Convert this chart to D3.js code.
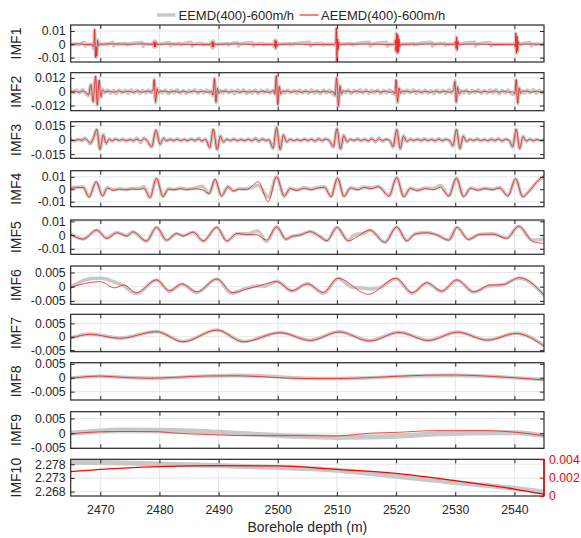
<!DOCTYPE html>
<html><head><meta charset="utf-8">
<script src="https://cdn.jsdelivr.net/npm/d3@7"></script>
<style>body{margin:0;background:#fff}svg{display:block}text{font-family:"Liberation Sans",Arial,sans-serif}</style>
</head><body><svg id="c" width="581" height="538"></svg>
<script>
// ---------------- DATA ----------------
const xDomain = [2465, 2545];
const xTicks = [2470, 2480, 2490, 2500, 2510, 2520, 2530, 2540];
const imfNames = ["IMF1","IMF2","IMF3","IMF4","IMF5","IMF6","IMF7","IMF8","IMF9","IMF10"];
const yTicks = [[-0.01,0,0.01],[-0.012,0,0.012],[-0.015,0,0.015],[-0.01,0,0.01],[-0.01,0,0.01],
  [-0.005,0,0.005],[-0.005,0,0.005],[-0.005,0,0.005],[-0.005,0,0.005],[2.268,2.273,2.278]];
const yDomains = [[-0.0133,0.0145],[-0.0165,0.0165],[-0.0194,0.0194],[-0.014,0.0149],[-0.014,0.011],
  [-0.0062,0.0073],[-0.0056,0.0084],[-0.008,0.0054],[-0.0051,0.0073],[2.2664,2.2798]];
const rightTicks = [0, 0.002, 0.004];
const rightDomain = [0, 0.004];
const seriesNames = ["EEMD(400)-600m/h", "AEEMD(400)-600m/h"];
const xLabel = "Borehole depth (m)";

const imf1Red = [
[2465,0],[2466.5,0.0003],[2467.4,-0.0002],[2468.6,0],
[2468.85,-0.002],[2468.95,0.002],[2469.05,0.0115],[2469.2,-0.0098],[2469.3,-0.002],[2469.4,-0.009],[2469.55,0.003],[2469.7,-0.001],[2469.9,0],
[2472.2,0.0003],[2475,0],[2477.2,0.0004],[2478.9,0],
[2479.05,0.0015],[2479.15,-0.002],[2479.25,0.002],[2479.35,-0.0018],[2479.45,0.0012],[2479.6,0],
[2482,0.0002],[2485.5,-0.0002],[2488.7,0],
[2488.85,0.0015],[2488.95,-0.002],[2489.05,0.0022],[2489.15,-0.002],[2489.25,0.001],[2489.4,0],
[2493.3,0.0003],[2496,-0.0002],[2499.3,0],
[2499.45,-0.0015],[2499.55,0.003],[2499.65,-0.003],[2499.75,0.0025],[2499.85,-0.0015],[2500,0],
[2503,0.0002],[2505.5,-0.0002],[2509.6,0],
[2509.8,0.001],[2509.9,0.012],[2510.0,-0.0125],[2510.1,0.004],[2510.2,-0.004],[2510.3,0.0015],[2510.45,0],
[2515.6,0.0002],[2518.5,-0.0002],[2519.8,0],
[2519.9,0.003],[2520.0,-0.005],[2520.1,0.0085],[2520.2,-0.0065],[2520.3,0.007],[2520.4,-0.006],[2520.5,0.004],[2520.6,-0.002],[2520.75,0],
[2526,0.0002],[2529.9,0],
[2530.05,0.002],[2530.15,-0.003],[2530.25,0.0055],[2530.35,-0.0043],[2530.45,0.002],[2530.6,0],
[2534,0.0002],[2536,-0.0002],[2540.0,0],
[2540.15,-0.002],[2540.25,0.0085],[2540.35,-0.0065],[2540.45,0.006],[2540.55,-0.005],[2540.65,0.002],[2540.8,0],
[2543,0.0002],[2545,0]];

const imf1Gray = [
[2465,0],[2466.1,0.0004],[2466.3,-0.0004],[2466.5,0],
[2467.3,0.0016],[2467.45,-0.0014],[2467.6,0],
[2468.6,0],[2468.75,-0.0015],[2468.85,-0.0032],[2468.95,0.002],[2469.05,0.0108],[2469.2,-0.0097],[2469.3,-0.002],[2469.4,-0.009],[2469.55,0.0035],[2469.7,-0.0015],[2469.85,0.0008],[2470.0,0],
[2471.0,0.0004],[2471.15,-0.0004],[2471.3,0],
[2472.1,0.0016],[2472.25,-0.0013],[2472.4,0],
[2474.4,0.0006],[2474.55,-0.0006],[2474.7,0],
[2477.1,0.0013],[2477.25,-0.0015],[2477.4,0],
[2478.8,0],[2478.95,0.0018],[2479.05,-0.0022],[2479.15,0.0025],[2479.25,-0.002],[2479.35,0.0022],[2479.45,-0.0018],[2479.55,0.0012],[2479.7,0],
[2481.7,0.0014],[2481.85,-0.0012],[2482.0,0],
[2483.5,0.0006],[2483.65,-0.0006],[2483.8,0],
[2485.4,0.0015],[2485.55,-0.0014],[2485.7,0],
[2487.2,0.0007],[2487.35,-0.0007],[2487.5,0],
[2488.6,0],[2488.75,0.0015],[2488.85,-0.0025],[2488.95,0.0025],[2489.05,-0.0028],[2489.15,0.0025],[2489.25,-0.0018],[2489.35,0.001],[2489.5,0],
[2491.5,0.0006],[2491.65,-0.0006],[2491.8,0],
[2493.2,0.0014],[2493.35,-0.0014],[2493.5,0],
[2495.7,0.0013],[2495.85,-0.0012],[2496.0,0],
[2497.5,0.0006],[2497.65,-0.0006],[2497.8,0],
[2499.2,0],[2499.35,-0.002],[2499.45,0.0022],[2499.55,0.0032],[2499.65,-0.0032],[2499.75,0.0028],[2499.85,-0.0018],[2499.95,0.0008],[2500.1,0],
[2502,0.0006],[2502.15,-0.0006],[2502.3,0],
[2505.4,0.0015],[2505.55,-0.0013],[2505.7,0],
[2507.5,0.0007],[2507.65,-0.0007],[2507.8,0],
[2509.6,0],[2509.75,-0.0015],[2509.85,0.0015],[2509.9,0.0118],[2510.0,-0.013],[2510.1,0.0045],[2510.2,-0.0045],[2510.3,0.002],[2510.45,-0.0005],[2510.6,0],
[2512.5,0.0006],[2512.65,-0.0006],[2512.8,0],
[2515.5,0.0015],[2515.65,-0.0013],[2515.8,0],
[2518.4,0.0015],[2518.55,-0.0015],[2518.7,0],
[2519.7,0],[2519.85,0.0035],[2519.95,-0.0055],[2520.05,0.0082],[2520.15,-0.0068],[2520.25,0.0072],[2520.35,-0.0062],[2520.45,0.0045],[2520.55,-0.0025],[2520.7,0.001],[2520.85,0],
[2523,0.0006],[2523.15,-0.0006],[2523.3,0],
[2526.0,0.0015],[2526.15,-0.0013],[2526.3,0],
[2528.2,0.0007],[2528.35,-0.0007],[2528.5,0],
[2529.85,0],[2530.0,0.0025],[2530.1,-0.0032],[2530.2,0.0055],[2530.3,-0.0045],[2530.4,0.0025],[2530.5,-0.001],[2530.65,0],
[2533.3,0.0015],[2533.45,-0.0013],[2533.6,0],
[2535.9,0.0013],[2536.05,-0.0012],[2536.2,0],
[2539.9,0],[2540.05,0.001],[2540.15,-0.0025],[2540.25,0.0082],[2540.35,-0.0068],[2540.45,0.0062],[2540.55,-0.0052],[2540.65,0.0025],[2540.8,-0.0005],[2540.95,0],
[2542.7,0.0014],[2542.85,-0.0013],[2543.0,0],[2545,0]];

const imf2Red = [
[2465,0],[2465.6,0.0007],[2466.3,-0.0006],[2467.0,0.0006],[2467.6,-0.0004],
[2468.0,-0.003],[2468.4,0.006],[2468.8,-0.0087],[2469.2,0.0136],[2469.5,-0.0115],[2469.8,0.01],[2470.1,-0.0045],[2470.4,0.0015],[2470.8,-0.0003],
[2471.5,0.0006],[2472.3,-0.0006],[2473.1,0.0007],[2473.9,-0.0005],[2474.7,0.0006],[2475.5,-0.0006],[2476.3,0.0007],[2477.1,-0.0005],[2477.9,0.0006],[2478.6,-0.0002],
[2478.95,0.002],[2479.1,0.0105],[2479.35,-0.009],[2479.6,0.0025],[2479.85,-0.0012],[2480.1,0.0003],
[2480.9,0.0006],[2481.7,-0.0005],[2482.5,0.0007],[2483.3,-0.0006],[2484.1,0.0005],[2484.9,-0.0006],[2485.7,0.0007],[2486.5,-0.0005],[2487.3,0.0006],[2488.1,-0.0006],[2488.8,0.0002],
[2489.05,-0.003],[2489.3,0.0114],[2489.55,-0.009],[2489.8,0.003],[2490.05,-0.0012],[2490.3,0.0003],
[2491.1,0.0006],[2491.9,-0.0005],[2492.7,0.0007],[2493.5,-0.0006],[2494.3,0.0005],[2495.1,-0.0006],[2495.9,0.0007],[2496.7,-0.0005],[2497.5,0.0006],[2498.3,-0.0006],[2499.0,0.0003],
[2499.3,0.001],[2499.5,-0.002],[2499.75,0.014],[2500.0,-0.0113],[2500.25,0.0045],[2500.5,-0.002],[2500.8,0.0004],
[2501.6,0.0006],[2502.4,-0.0005],[2503.2,0.0007],[2504.0,-0.0006],[2504.8,0.0005],[2505.6,-0.0006],[2506.4,0.0007],[2507.2,-0.0005],[2508.0,0.0006],[2508.8,-0.0006],[2509.4,0.0003],
[2509.7,-0.003],[2509.95,0.0121],[2510.25,-0.0124],[2510.5,0.005],[2510.75,-0.002],[2511.0,0.0004],
[2511.8,0.0006],[2512.6,-0.0005],[2513.4,0.0007],[2514.2,-0.0006],[2515.0,0.0005],[2515.8,-0.0006],[2516.6,0.0007],[2517.4,-0.0005],[2518.2,0.0006],[2519.0,-0.0006],[2519.5,0.0002],
[2519.8,-0.002],[2520.0,0.0104],[2520.25,-0.009],[2520.5,0.003],[2520.75,-0.0012],[2521.0,0.0003],
[2521.8,0.0006],[2522.6,-0.0005],[2523.4,0.0007],[2524.2,-0.0006],[2525.0,0.0005],[2525.8,-0.0006],[2526.6,0.0007],[2527.4,-0.0005],[2528.2,0.0006],[2529.0,-0.0006],[2529.5,0.0002],
[2529.75,0.002],[2529.95,0.009],[2530.15,-0.009],[2530.4,0.004],[2530.65,-0.002],[2531.0,0.0003],
[2531.8,0.0006],[2532.6,-0.0005],[2533.4,0.0007],[2534.2,-0.0006],[2535.0,0.0005],[2535.8,-0.0006],[2536.6,0.0007],[2537.4,-0.0005],[2538.2,0.0006],[2539.0,-0.0006],[2539.7,0.0002],
[2540.05,-0.002],[2540.3,0.0105],[2540.55,-0.01],[2540.8,0.003],[2541.05,-0.0012],[2541.3,0.0003],
[2542.1,0.0006],[2542.9,-0.0005],[2543.7,0.0006],[2544.4,-0.0004],[2545,0]];

const imf2Gray = [
[2465,0.0005],[2465.5,-0.001],[2466.0,0.0015],[2466.5,-0.0012],[2467.0,0.002],[2467.5,-0.0015],
[2468.0,-0.0035],[2468.4,0.0065],[2468.8,-0.009],[2469.2,0.013],[2469.5,-0.0118],[2469.8,0.0095],[2470.1,-0.005],[2470.4,0.002],[2470.8,-0.001],
[2471.2,0.0015],[2471.7,-0.0012],[2472.2,0.001],[2472.7,-0.0018],[2473.2,0.0015],[2473.7,-0.001],[2474.2,0.0012],[2474.7,-0.0015],[2475.2,0.0018],[2475.7,-0.001],[2476.2,0.0012],[2476.7,-0.0016],[2477.2,0.0013],[2477.7,-0.001],[2478.2,0.0015],[2478.6,-0.001],
[2478.95,0.0025],[2479.1,0.0105],[2479.35,-0.0095],[2479.6,0.003],[2479.85,-0.0015],[2480.1,0.001],
[2480.5,-0.0012],[2481.0,0.0015],[2481.5,-0.0018],[2482.0,0.0012],[2482.5,-0.001],[2483.0,0.0016],[2483.5,-0.0012],[2484.0,0.001],[2484.5,-0.0015],[2485.0,0.0012],[2485.5,-0.0008],[2486.0,0.0018],[2486.5,-0.0015],[2487.0,0.0012],[2487.5,-0.001],[2488.0,0.0015],[2488.5,-0.0012],[2488.8,0.001],
[2489.05,-0.0035],[2489.3,0.011],[2489.55,-0.0095],[2489.8,0.0035],[2490.05,-0.0015],[2490.3,0.001],
[2490.7,-0.0012],[2491.2,0.0015],[2491.7,-0.001],[2492.2,0.0012],[2492.7,-0.0018],[2493.2,0.0015],[2493.7,-0.001],[2494.2,0.0018],[2494.7,-0.0015],[2495.2,0.001],[2495.7,-0.0012],[2496.2,0.0015],[2496.7,-0.0016],[2497.2,0.0012],[2497.7,-0.001],[2498.2,0.0015],[2498.7,-0.0012],[2499.1,0.001],
[2499.3,0.0012],[2499.5,-0.0025],[2499.75,0.0135],[2500.0,-0.0115],[2500.25,0.005],[2500.5,-0.0025],[2500.8,0.001],
[2501.2,-0.0012],[2501.7,0.0015],[2502.2,-0.001],[2502.7,0.0012],[2503.2,-0.0016],[2503.7,0.0015],[2504.2,-0.001],[2504.7,0.0012],[2505.2,-0.0015],[2505.7,0.0018],[2506.2,-0.0012],[2506.7,0.001],[2507.2,-0.0016],[2507.7,0.0015],[2508.2,-0.001],[2508.7,0.0012],[2509.2,-0.001],
[2509.7,-0.0035],[2509.95,0.0118],[2510.25,-0.0125],[2510.5,0.0055],[2510.75,-0.0025],[2511.0,0.001],
[2511.4,-0.0012],[2511.9,0.0015],[2512.4,-0.0018],[2512.9,0.0012],[2513.4,-0.001],[2513.9,0.0016],[2514.4,-0.0012],[2514.9,0.0018],[2515.4,-0.0015],[2515.9,0.0012],[2516.4,-0.001],[2516.9,0.0015],[2517.4,-0.0016],[2517.9,0.0012],[2518.4,-0.001],[2518.9,0.0015],[2519.4,-0.001],
[2519.8,-0.0025],[2520.0,0.0102],[2520.25,-0.0095],[2520.5,0.0035],[2520.75,-0.0015],[2521.0,0.001],
[2521.4,-0.0012],[2521.9,0.0015],[2522.4,-0.001],[2522.9,0.0018],[2523.4,-0.0016],[2523.9,0.0012],[2524.4,-0.001],[2524.9,0.0015],[2525.4,-0.0012],[2525.9,0.001],[2526.4,-0.0018],[2526.9,0.0015],[2527.4,-0.001],[2527.9,0.0012],[2528.4,-0.0015],[2528.9,0.0018],[2529.4,-0.001],
[2529.75,0.0025],[2529.95,0.0092],[2530.15,-0.0095],[2530.4,0.0045],[2530.65,-0.0025],[2531.0,0.001],
[2531.4,-0.0012],[2531.9,0.0015],[2532.4,-0.0016],[2532.9,0.0012],[2533.4,-0.001],[2533.9,0.0018],[2534.4,-0.0015],[2534.9,0.001],[2535.4,-0.0012],[2535.9,0.0015],[2536.4,-0.001],[2536.9,0.0016],[2537.4,-0.0018],[2537.9,0.0012],[2538.4,-0.001],[2538.9,0.0015],[2539.4,-0.0012],
[2540.05,-0.0025],[2540.3,0.0102],[2540.55,-0.0102],[2540.8,0.0035],[2541.05,-0.0015],[2541.3,0.001],
[2541.7,-0.0012],[2542.2,0.0015],[2542.7,-0.001],[2543.2,0.0018],[2543.7,-0.0015],[2544.2,0.0012],[2544.7,-0.001],[2545,0.0005]];

const imf3Red = [
[2465,0.0003],[2465.6,-0.0006],[2466.3,0.0005],[2466.9,-0.0003],[2467.4,0.0015],[2467.9,-0.0008],[2468.3,-0.0035],[2468.85,0.002],[2469.4,0.0113],[2469.95,-0.0099],[2470.5,0.0053],[2471.0,-0.0035],[2471.5,0.0008],
[2472.0,-0.0006],[2472.6,0.0008],[2473.2,-0.0004],[2473.8,0.0005],[2474.4,-0.0007],[2475.0,0.0004],[2475.6,-0.0005],[2476.2,0.0009],[2476.8,-0.0008],[2477.4,0.0012],[2477.9,-0.0004],
[2478.7,-0.007],[2479.4,0.0106],[2480.1,-0.0046],[2480.7,0.0018],[2481.2,-0.0008],
[2481.8,0.0005],[2482.4,-0.0004],[2483.0,0.0007],[2483.6,-0.0005],[2484.2,0.0004],[2484.8,-0.0006],[2485.4,0.0008],[2486.0,-0.0004],[2486.6,0.001],[2487.2,-0.0008],[2487.8,0.0006],
[2488.5,-0.008],[2489.1,0.0115],[2489.75,-0.0099],[2490.3,0.004],[2490.8,-0.0018],
[2491.4,0.0006],[2492.0,-0.0004],[2492.6,0.0007],[2493.2,-0.0005],[2493.8,0.0004],[2494.4,-0.0006],[2495.0,0.0008],[2495.6,-0.0006],[2496.2,0.001],[2496.8,-0.0009],[2497.4,0.0007],[2498.0,-0.0004],[2498.5,0.0003],
[2499.2,-0.0085],[2499.8,0.0135],[2500.4,-0.01],[2500.95,0.005],[2501.5,-0.0018],
[2502.1,0.0006],[2502.7,-0.0005],[2503.3,0.0004],[2503.9,-0.0006],[2504.5,0.0007],[2505.1,-0.0004],[2505.7,0.0006],[2506.3,-0.0008],[2506.9,0.001],[2507.5,-0.0006],[2508.1,0.0008],[2508.7,-0.0004],
[2509.4,-0.007],[2510.0,0.012],[2510.6,-0.0095],[2511.15,0.0045],[2511.7,-0.0018],
[2512.3,0.0006],[2512.9,-0.0004],[2513.5,0.0007],[2514.1,-0.0005],[2514.7,0.0006],[2515.3,-0.0008],[2515.9,0.001],[2516.5,-0.001],[2517.1,0.0012],[2517.7,-0.0007],[2518.3,0.0006],[2518.9,-0.0004],
[2519.5,-0.007],[2520.1,0.011],[2520.7,-0.009],[2521.25,0.004],[2521.8,-0.0014],
[2522.4,0.0005],[2523.0,-0.0004],[2523.6,0.0006],[2524.2,-0.0005],[2524.8,0.0007],[2525.4,-0.0004],[2526.0,0.0005],[2526.6,-0.0007],[2527.2,0.0009],[2527.8,-0.0006],[2528.4,0.0005],[2529.0,-0.0003],
[2529.6,-0.006],[2530.2,0.011],[2530.8,-0.009],[2531.35,0.004],[2531.9,-0.0014],
[2532.5,0.0005],[2533.1,-0.0004],[2533.7,0.0007],[2534.3,-0.0005],[2534.9,0.0004],[2535.5,-0.0006],[2536.1,0.0007],[2536.7,-0.0005],[2537.3,0.0009],[2537.9,-0.0008],[2538.5,0.0006],[2539.1,-0.0003],
[2539.7,-0.007],[2540.3,0.0115],[2540.9,-0.009],[2541.45,0.0035],[2542.0,-0.001],[2542.6,0.0007],[2543.2,-0.0006],[2543.8,0.0005],[2544.4,-0.0004],[2545,0.0003]];

const imf3Gray = [
[2465,0.0006],[2465.6,-0.001],[2466.3,0.0009],[2466.9,-0.0006],[2467.4,0.002],[2467.9,-0.0012],[2468.3,-0.004],[2468.85,0.0025],[2469.4,0.011],[2469.95,-0.0102],[2470.5,0.0058],[2471.0,-0.004],[2471.5,0.0012],
[2472.0,-0.001],[2472.6,0.0013],[2473.2,-0.0008],[2473.8,0.001],[2474.4,-0.0012],[2475.0,0.0009],[2475.6,-0.001],[2476.2,0.0022],[2476.8,-0.0028],[2477.4,0.0025],[2477.9,-0.0012],
[2478.7,-0.0075],[2479.4,0.0105],[2480.1,-0.005],[2480.7,0.0022],[2481.2,-0.0012],
[2481.8,0.001],[2482.4,-0.0008],[2483.0,0.0012],[2483.6,-0.001],[2484.2,0.0009],[2484.8,-0.0011],[2485.4,0.0014],[2486.0,-0.001],[2486.6,0.0018],[2487.2,-0.0015],[2487.8,0.001],
[2488.5,-0.0082],[2489.1,0.0112],[2489.75,-0.0102],[2490.3,0.0045],[2490.8,-0.0022],
[2491.4,0.001],[2492.0,-0.0008],[2492.6,0.0012],[2493.2,-0.001],[2493.8,0.0009],[2494.4,-0.0011],[2495.0,0.0014],[2495.6,-0.0012],[2496.2,0.0018],[2496.8,-0.0016],[2497.4,0.0012],[2498.0,-0.0008],[2498.5,0.0006],
[2499.2,-0.009],[2499.8,0.013],[2500.4,-0.0102],[2500.95,0.0055],[2501.5,-0.0022],
[2502.1,0.001],[2502.7,-0.001],[2503.3,0.0008],[2503.9,-0.0011],[2504.5,0.0012],[2505.1,-0.0008],[2505.7,0.0011],[2506.3,-0.0014],[2506.9,0.0016],[2507.5,-0.0011],[2508.1,0.0014],[2508.7,-0.0008],
[2509.4,-0.0075],[2510.0,0.0118],[2510.6,-0.0098],[2511.15,0.005],[2511.7,-0.0022],
[2512.3,0.001],[2512.9,-0.0008],[2513.5,0.0012],[2514.1,-0.001],[2514.7,0.0011],[2515.3,-0.0015],[2515.9,0.0018],[2516.5,-0.0022],[2517.1,0.0022],[2517.7,-0.0013],[2518.3,0.001],[2518.9,-0.0007],
[2519.5,-0.0075],[2520.1,0.0108],[2520.7,-0.0095],[2521.25,0.0045],[2521.8,-0.0018],
[2522.4,0.001],[2523.0,-0.0008],[2523.6,0.0011],[2524.2,-0.001],[2524.8,0.0012],[2525.4,-0.0008],[2526.0,0.001],[2526.6,-0.0013],[2527.2,0.0016],[2527.8,-0.0011],[2528.4,0.001],[2529.0,-0.0006],
[2529.6,-0.0065],[2530.2,0.0108],[2530.8,-0.0095],[2531.35,0.0045],[2531.9,-0.0018],
[2532.5,0.001],[2533.1,-0.0008],[2533.7,0.0012],[2534.3,-0.001],[2534.9,0.0009],[2535.5,-0.0011],[2536.1,0.0012],[2536.7,-0.001],[2537.3,0.0016],[2537.9,-0.0014],[2538.5,0.001],[2539.1,-0.0006],
[2539.7,-0.0075],[2540.3,0.0112],[2540.9,-0.0095],[2541.45,0.004],[2542.0,-0.0014],[2542.6,0.0011],[2543.2,-0.001],[2543.8,0.0009],[2544.4,-0.0007],[2545,0.0005]];

const imf4Red = [
[2465,0.0008],[2467.1,0.0015],[2468.1,-0.0064],[2469.3,0.006],[2470.4,-0.0054],[2471.2,0.001],[2472.2,-0.0009],[2473.2,0],[2474.3,-0.0004],[2475.3,0.0001],[2476.6,-0.0001],[2477.4,0.0005],
[2478.4,-0.0067],[2479.5,0.0088],[2480.6,-0.006],[2481.5,0],[2482.4,-0.0005],[2483.5,0.0005],[2484.6,-0.0004],[2486,0.0003],[2487,0],
[2488.4,-0.0034],[2489.4,0.008],[2490.5,-0.0054],[2491.6,0.002],[2492.5,-0.0015],[2493.5,0],[2494.7,-0.0003],
[2496.7,0.006],[2498.4,-0.01],[2499.8,0.01],[2501.1,-0.0054],
[2502.1,0.0005],[2503.2,-0.001],[2504.5,0.0008],[2505.6,-0.0004],[2506.8,0.001],[2507.9,0.0015],
[2509.0,-0.006],[2510.1,0.009],[2511.2,-0.0058],[2512.3,0.001],[2513.5,-0.0005],[2514.6,0.0015],[2515.8,0.0005],[2517,0.002],
[2518.8,-0.0055],[2520.1,0.0095],[2521.3,-0.006],[2522.4,0.0005],[2523.6,-0.001],[2525,0.0005],[2526.3,-0.0005],[2527.5,0.0015],
[2528.9,-0.0055],[2530.2,0.009],[2531.4,-0.006],[2532.6,0.0008],[2533.8,-0.0008],[2535,0.0005],[2536.3,-0.0005],[2537.5,0.001],
[2538.9,-0.0055],[2540.2,0.0085],[2541.4,-0.006],[2542.6,-0.001],[2543.8,0.006],[2545,0.011]];

const imf4Gray = [
[2465,0.0012],[2467.1,0.002],[2468.1,-0.006],[2469.3,0.0058],[2470.4,-0.005],[2471.2,0.0015],[2472.2,-0.0005],[2473.2,0.0005],[2474.3,-0.0002],[2475.3,0.0006],[2476.6,0.0008],[2477.4,0.002],
[2478.4,-0.0065],[2479.5,0.0085],[2480.6,-0.0058],[2481.5,0.0005],[2482.4,-0.0002],[2483.5,0.0008],[2484.6,0.0001],[2486,0.001],[2487.2,0.0025],
[2488.4,-0.0035],[2489.4,0.0078],[2490.5,-0.0055],[2491.6,0.0022],[2492.5,-0.0012],[2493.5,0.0005],[2494.7,0.0005],
[2496.7,0.003],[2498.4,-0.0062],[2499.8,0.0098],[2501.1,-0.0056],
[2502.1,0.0008],[2503.2,-0.0006],[2504.5,0.0012],[2505.6,0],[2506.8,0.0015],[2507.9,0.002],
[2509.0,-0.0058],[2510.1,0.0088],[2511.2,-0.0056],[2512.3,0.0012],[2513.5,0],[2514.6,0.0018],[2515.8,0.001],[2517,0.0025],
[2518.8,-0.0053],[2520.1,0.0092],[2521.3,-0.0058],[2522.4,0.0008],[2523.6,-0.0006],[2525,0.001],[2526.3,0.0005],[2527.5,0.003],
[2528.9,-0.0053],[2530.2,0.0088],[2531.4,-0.0058],[2532.6,0.001],[2533.8,-0.0005],[2535,0.0008],[2536.3,0],[2537.5,0.0015],
[2538.9,-0.0052],[2540.2,0.0083],[2541.4,-0.0058],[2542.6,-0.0008],[2543.8,0.0058],[2545,0.0105]];

const imf5Red = [
[2465,0.0005],[2467.1,-0.003],[2469.4,0.0037],[2471.1,-0.0025],[2472.8,0.0017],[2474.5,-0.0007],[2475.5,0.0024],[2477.8,-0.0042],[2479.5,0.0057],[2481.2,-0.0037],[2482.9,0.0012],[2484.0,-0.0007],[2485.7,0.0022],[2487.4,-0.0042],[2489.7,0.0057],[2491.4,-0.0042],[2493.1,0.0012],[2494.8,0.0003],[2496.4,0.0004],[2498.1,-0.0037],[2499.8,0.006],[2501.4,-0.003],[2502.3,-0.0012],[2503.8,0],[2505.5,0.0025],[2507.0,-0.0008],[2508.3,-0.0042],[2510.0,0.0057],[2511.9,-0.0042],[2513.0,-0.0025],[2514.2,0.001],[2515.6,0.0037],[2518.1,-0.0054],[2520.1,0.006],[2521.8,-0.0042],[2523.2,0.0007],[2525.2,0.0017],[2526.9,0],[2528.9,-0.0037],[2530.3,0.0057],[2532.2,-0.0032],[2534.2,0.0005],[2536.4,0.0007],[2538.7,-0.0025],[2540.7,0.0066],[2543.2,-0.005],[2545,-0.006]];

const imf5Gray = [
[2465,0.0008],[2467.1,-0.0028],[2469.4,0.0035],[2471.1,-0.0022],[2472.8,0.0018],[2474.5,-0.0004],[2475.5,0.0022],[2477.8,-0.0045],[2479.5,0.0055],[2481.2,-0.0038],[2482.9,0.001],[2484.0,-0.0004],[2485.7,0.002],[2487.4,-0.0045],[2489.7,0.0055],[2491.4,-0.0044],[2493.1,0.001],[2494.8,0.001],[2496.6,0.003],[2498.1,-0.0046],[2499.8,0.006],[2501.4,-0.003],[2502.3,-0.0012],[2503.8,0.0002],[2505.5,0.0027],[2507.0,-0.0006],[2508.3,-0.004],[2510.0,0.0055],[2511.9,-0.0038],[2512.8,-0.0005],[2513.6,0.0008],[2514.4,0.0012],[2515.6,0.0036],[2518.1,-0.0052],[2520.1,0.0058],[2521.8,-0.004],[2523.2,0.0009],[2525.2,0.0018],[2526.9,0.0002],[2528.9,-0.0035],[2530.3,0.0055],[2532.2,-0.003],[2534.2,0.0007],[2536.4,0.0009],[2538.7,-0.0022],[2540.7,0.0063],[2543.0,-0.0035],[2545,-0.0028]];

const imf6Red = [
[2465,-0.0002],[2470.0,0.0018],[2472.4,-0.0004],[2474.0,0.0006],[2476.1,-0.0021],[2479.5,0.0024],[2481.7,-0.0014],[2483.8,0.001],[2486.3,-0.0018],[2489.7,0.0027],[2492.4,-0.0021],[2494.8,-0.0008],[2497.0,0.0004],[2499.8,0.0018],[2502.4,-0.0014],[2505.0,0.001],[2507.7,-0.002],[2510.2,0.003],[2515.3,-0.0027],[2520.0,0.003],[2522.7,-0.0021],[2525.2,0.0014],[2527.7,-0.0015],[2530.3,0.0024],[2533.1,-0.0018],[2535.9,0.0006],[2538.0,0.0007],[2540.9,0.0032],[2545,-0.003]];

const imf6Gray = [
[2465,-0.0001],[2468.5,0.0029],[2470.2,0.003],[2472.2,0.0018],[2473.8,0.0005],[2476.1,-0.0025],[2479.5,0.0024],[2481.7,-0.0016],[2483.8,0.0009],[2486.3,-0.0021],[2489.7,0.0027],[2492.2,-0.0023],[2494.6,-0.0006],[2496.6,0.0003],[2497.8,0.0002],[2499.8,0.0019],[2502.4,-0.0015],[2505.0,0.001],[2507.7,-0.0023],[2510.2,0.0029],[2512.6,-0.0002],[2513.8,-0.0004],[2515.5,-0.0008],[2517.2,-0.0004],[2520.0,0.0028],[2522.7,-0.0023],[2525.2,0.0013],[2527.7,-0.0017],[2530.3,0.0024],[2533.1,-0.0019],[2535.6,0.0002],[2538.0,0.0007],[2540.8,0.003],[2545,-0.0029]];

const imf7Red = [
[2465,-0.0006],[2468.3,0.0009],[2473.3,-0.0006],[2479.5,0.0019],[2484.0,-0.0019],[2489.7,0.0025],[2494.2,-0.0019],[2500.4,0.0015],[2505.5,-0.0014],[2510.4,0.0018],[2515.5,-0.0016],[2520.5,0.0016],[2525.4,-0.0014],[2530.4,0.0017],[2535.4,-0.0013],[2540.3,0.0012],[2545,-0.0035]];

const imf7Gray = [
[2465,-0.0004],[2468.3,0.001],[2473.3,-0.0005],[2479.5,0.002],[2484.0,-0.0018],[2489.7,0.0025],[2494.2,-0.0018],[2500.4,0.0016],[2505.5,-0.0013],[2510.4,0.0019],[2515.5,-0.0015],[2520.5,0.0017],[2525.4,-0.0013],[2530.4,0.0018],[2535.4,-0.0012],[2540.3,0.0013],[2545,-0.0033]];

const imf8Red = [
[2465,-0.0002],[2470,0.0006],[2474,0.0001],[2478.4,-0.0002],[2483,0.0002],[2487.5,0.0006],[2492.6,0.0007],[2497,0.0004],[2500.3,0],[2505,-0.0003],[2510,-0.0003],[2515,0],[2520,0.0005],[2525,0.0009],[2530,0.001],[2535,0.0006],[2540,0],[2545,-0.0008]];

const imf8Gray = [
[2465,-0.0001],[2470,0.0005],[2475,0.0001],[2480,-0.0001],[2487.5,0.0006],[2493,0.0009],[2498,0.0006],[2502,0.0001],[2508,-0.0003],[2514,-0.0001],[2520,0.0004],[2525,0.0008],[2530,0.0009],[2535,0.0006],[2540,0],[2545,-0.0007]];

const imf9Red = [
[2465,-0.0002],[2470,0.0005],[2475,0.0006],[2480,0.0005],[2482.2,0.0001],[2487.5,-0.0004],[2490.4,-0.0006],[2493,-0.0008],[2502,-0.0008],[2510,-0.0009],[2515.6,0],[2520.1,0.0003],[2526.9,0.0009],[2534.8,0.0009],[2540.4,0.0003],[2545,-0.0008]];

const imf9Gray = [
[2465,0],[2470,0.0008],[2473.3,0.0011],[2480,0.001],[2487.5,0.0006],[2493,0],[2502,-0.0009],[2510,-0.0014],[2515,-0.0013],[2520.1,-0.001],[2527.2,-0.0002],[2533,0.0001],[2537.4,0.0002],[2540.4,0.0002],[2545,-0.0008]];

// IMF10: gray on left axis, red on right (red) axis
const imf10Gray = [
[2465,2.2787],[2470,2.2786],[2480,2.2781],[2490,2.2775],[2500,2.2768],[2510,2.2758],[2520,2.2736],[2530,2.2713],[2540,2.2692],[2545,2.2678]];
const imf10Red = [
[2465,0.00265],[2470,0.0029],[2480,0.0032],[2490,0.0033],[2500,0.00328],[2510,0.0029],[2520,0.00247],[2530,0.00167],[2540,0.00076],[2545,0.0002]];

const graySeries = [imf1Gray,imf2Gray,imf3Gray,imf4Gray,imf5Gray,imf6Gray,imf7Gray,imf8Gray,imf9Gray,imf10Gray];
const redSeries  = [imf1Red,imf2Red,imf3Red,imf4Red,imf5Red,imf6Red,imf7Red,imf8Red,imf9Red,imf10Red];

// ---------------- LAYOUT ----------------
const plotLeft = 70.7, plotRight = 544;
const panelTop    = [25,72.7,121.7,170.7,220,266,314.3,362.7,411.7,459.3];
const panelBottom = [62,110.7,158.3,206.7,254.3,304.3,351.7,400,448.3,496];
const axisColor = "#262626", gridColor = "#e6e6e6", grayColor = "#c8c8c8", redColor = "#ff0000";
const fontTick = 12.3;

const svg = d3.select("#c");
const defs = svg.append("defs");
const x = d3.scaleLinear().domain(xDomain).range([plotLeft, plotRight]);
const mkLine = y => d3.line().x(d => x(d[0])).y(d => y(d[1])).curve(d3.curveMonotoneX);

function styleAxis(g, color) {
  g.select(".domain").remove();
  g.selectAll(".tick line").attr("stroke", color).attr("stroke-width", 1);
  g.selectAll(".tick text").attr("fill", color).attr("font-size", fontTick)
   .attr("font-family", '"Liberation Sans",Arial,sans-serif');
  g.attr("font-family", null).attr("font-size", null);
}

imfNames.forEach((name, i) => {
  const top = panelTop[i], bot = panelBottom[i];
  const y = d3.scaleLinear().domain(yDomains[i]).range([bot, top]);
  const g = svg.append("g");

  defs.append("clipPath").attr("id", "cp" + i).append("rect")
    .attr("x", plotLeft).attr("y", top).attr("width", plotRight - plotLeft).attr("height", bot - top);

  // grid
  g.append("g").selectAll("line").data(xTicks).join("line")
    .attr("x1", d => x(d)).attr("x2", d => x(d)).attr("y1", top).attr("y2", bot)
    .attr("stroke", gridColor).attr("stroke-width", 1);
  g.append("g").selectAll("line").data(yTicks[i]).join("line")
    .attr("x1", plotLeft).attr("x2", plotRight).attr("y1", d => y(d)).attr("y2", d => y(d))
    .attr("stroke", gridColor).attr("stroke-width", 1);

  // series
  const plot = g.append("g").attr("clip-path", `url(#cp${i})`);
  plot.append("path").attr("d", mkLine(y)(graySeries[i]))
    .attr("fill", "none").attr("stroke", grayColor).attr("stroke-width", i >= 8 ? 5 : 3.5)
    .attr("stroke-linejoin", "round").attr("stroke-linecap", "round");
  const yRed = i === 9 ? d3.scaleLinear().domain(rightDomain).range([bot, top]) : y;
  plot.append("path").attr("d", mkLine(yRed)(redSeries[i]))
    .attr("fill", "none").attr("stroke", redColor).attr("stroke-width", i === 9 ? 1.3 : 1)
    .attr("stroke-opacity", i === 9 ? 1 : 0.72).attr("stroke-linejoin", "round");

  // box
  g.append("rect").attr("x", plotLeft).attr("y", top).attr("width", plotRight - plotLeft).attr("height", bot - top)
    .attr("fill", "none").attr("stroke", axisColor).attr("stroke-width", 1.2);

  // left axis
  const aL = g.append("g").attr("transform", `translate(${plotLeft},0)`)
    .call(d3.axisLeft(y).tickValues(yTicks[i]).tickSize(-4).tickSizeOuter(0).tickPadding(5).tickFormat(d => String(d)));
  styleAxis(aL, axisColor);

  // right axis
  if (i === 9) {
    const aR = g.append("g").attr("transform", `translate(${plotRight},0)`)
      .call(d3.axisRight(yRed).tickValues(rightTicks).tickSize(-4).tickSizeOuter(0).tickPadding(5).tickFormat(d => String(d)));
    styleAxis(aR, redColor);
    g.append("line").attr("x1", plotRight).attr("x2", plotRight).attr("y1", top).attr("y2", bot)
      .attr("stroke", redColor).attr("stroke-width", 1.4);
  } else {
    const aR = g.append("g").attr("transform", `translate(${plotRight},0)`)
      .call(d3.axisRight(y).tickValues(yTicks[i]).tickSize(-4).tickSizeOuter(0).tickFormat(""));
    styleAxis(aR, axisColor);
  }

  // top and bottom x ticks
  const aT = g.append("g").attr("transform", `translate(0,${top})`)
    .call(d3.axisTop(x).tickValues(xTicks).tickSize(-4).tickSizeOuter(0).tickFormat(""));
  styleAxis(aT, axisColor);
  const aB = g.append("g").attr("transform", `translate(0,${bot})`)
    .call(d3.axisBottom(x).tickValues(xTicks).tickSize(-4).tickSizeOuter(0).tickPadding(9.5)
      .tickFormat(i === 9 ? (d => String(d)) : ""));
  styleAxis(aB, axisColor);

  // panel label
  svg.append("text").attr("transform", `translate(20.7,${(top + bot) / 2}) rotate(-90)`)
    .attr("text-anchor", "middle").attr("font-size", 14).attr("fill", axisColor).text(name);
});

// x axis title
svg.append("text").attr("x", (plotLeft + plotRight) / 2).attr("y", 532)
  .attr("text-anchor", "middle").attr("font-size", 14).attr("fill", axisColor).text(xLabel);

// legend
const leg = svg.append("g");
leg.append("line").attr("x1", 157).attr("x2", 175.5).attr("y1", 15).attr("y2", 15)
  .attr("stroke", grayColor).attr("stroke-width", 3.5);
leg.append("text").attr("x", 178.5).attr("y", 19.6).attr("font-size", 13).attr("fill", axisColor).text(seriesNames[0]);
leg.append("line").attr("x1", 299.5).attr("x2", 318.5).attr("y1", 15).attr("y2", 15)
  .attr("stroke", redColor).attr("stroke-width", 1);
leg.append("text").attr("x", 321).attr("y", 19.6).attr("font-size", 13).attr("fill", axisColor).text(seriesNames[1]);
</script>
</body></html>
